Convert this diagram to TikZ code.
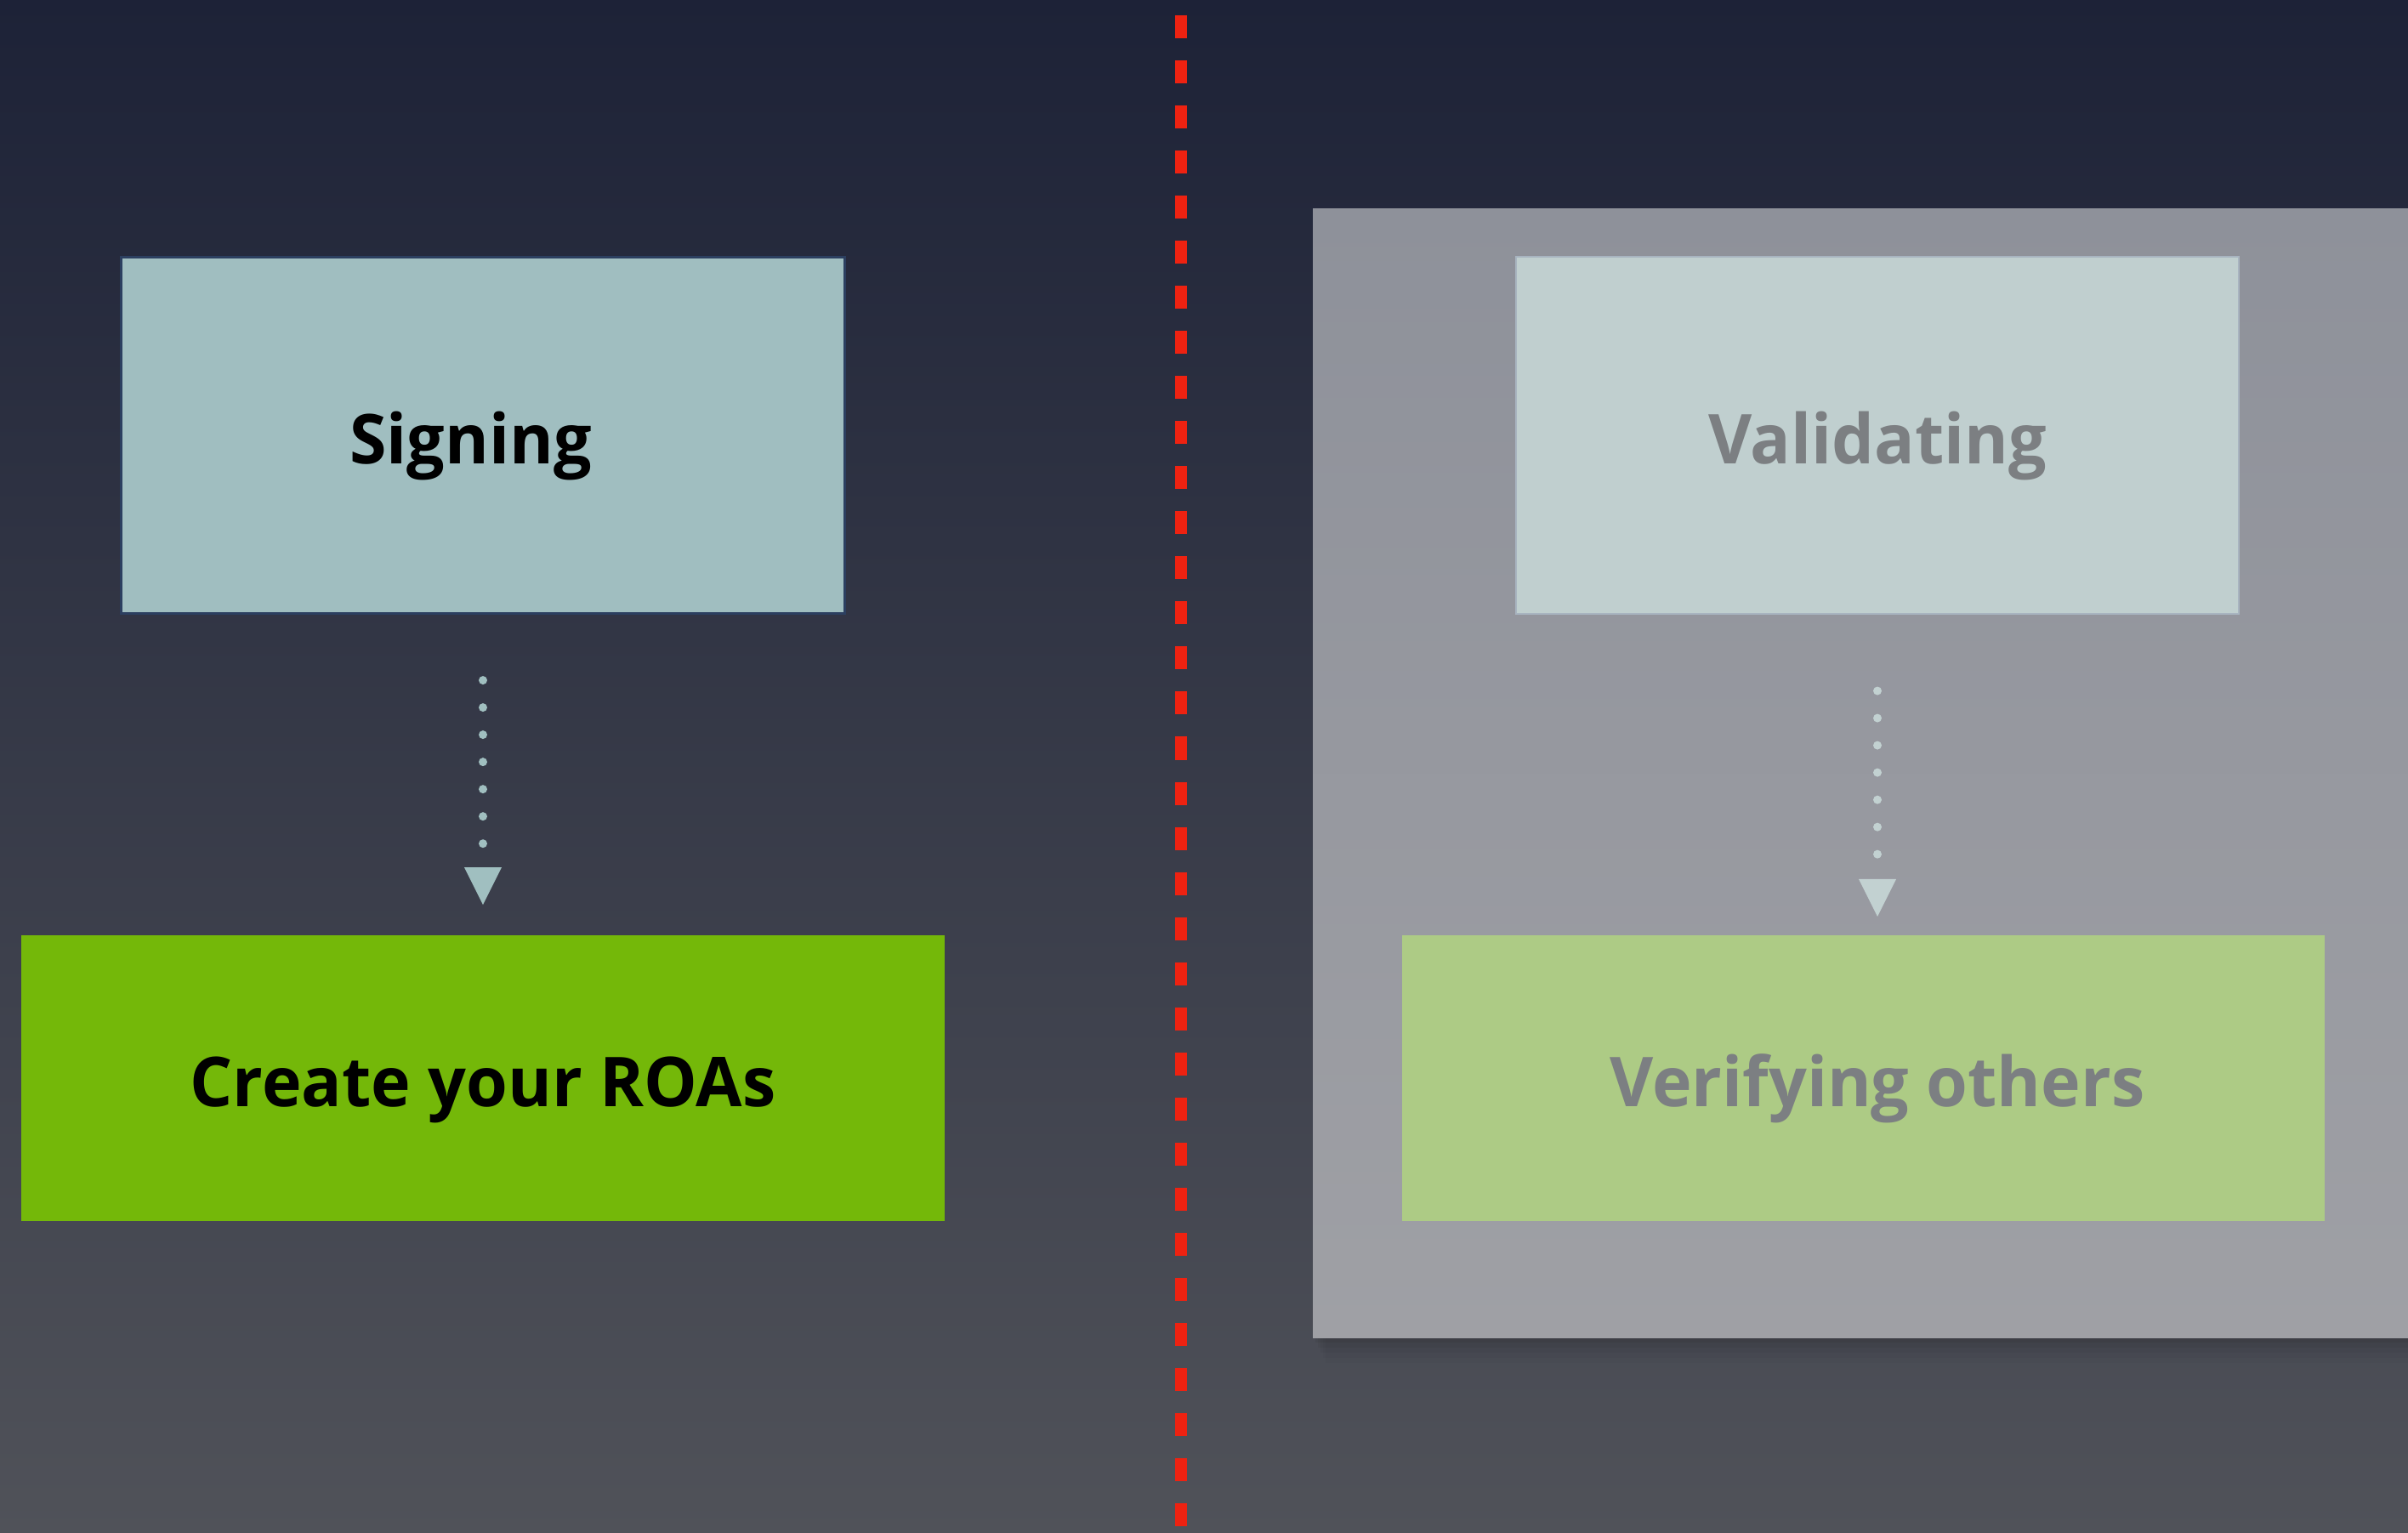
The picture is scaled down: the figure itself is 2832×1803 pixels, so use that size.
\documentclass[tikz,border=0pt]{standalone}
\usepackage{fontspec}
\setmainfont{Open Sans}[FakeStretch=0.975]
\usetikzlibrary{arrows.meta}
\definecolor{bgtop}{HTML}{1D2237}
\definecolor{bgbot}{HTML}{505259}
\definecolor{signfill}{HTML}{A0BEC0}
\definecolor{signedge}{HTML}{2C3F60}
\definecolor{roagreen}{HTML}{74B809}
\definecolor{validfill}{HTML}{C0CFCF}
\definecolor{validedge}{HTML}{A8B4C0}
\definecolor{veriffill}{HTML}{ADCB85}
\definecolor{fadetext}{HTML}{7C7F82}
\definecolor{paneltop}{HTML}{8E919A}
\definecolor{panelbot}{HTML}{9FA0A5}
\definecolor{arrowleft}{HTML}{A0BFC0}
\definecolor{arrowright}{HTML}{C2D1D1}
\definecolor{divider}{HTML}{EE2211}
\tikzset{
  box/.style={rectangle, inner sep=0pt, minimum width=8.5cm, minimum height=4.19cm},
  widebox/.style={rectangle, inner sep=0pt, minimum width=10.86cm, minimum height=3.36cm},
  title/.style={font=\bfseries\fontsize{23}{28}\selectfont, text height=18.8pt, text depth=0pt},
  dotflow/.style={line width=0.1cm, line cap=round, dash pattern=on 0pt off 0.32cm,
    -{Triangle[length=0.44cm, width=0.44cm, line width=0pt, round=false]}},
}
\begin{document}
\begin{tikzpicture}[x=0.01cm, y=-0.01cm]
  % backdrop
  \fill[top color=bgtop, bottom color=bgbot] (0,0) rectangle (2832,1803);
  \useasboundingbox (0,0) rectangle (2832,1803);

  % divider between the two sides
  \coordinate (divtop) at (1389,18);
  \coordinate (divbot) at (1389,1803);
  \draw[divider, line width=0.14cm, dash pattern=on 0.27cm off 0.26cm] (divtop) -- (divbot);

  % soft shadow under the faded panel
  \foreach \k/\o in {1/0.05, 2/0.04, 3/0.03, 4/0.02, 5/0.015}
    \fill[black, opacity=\o] (1544+\k*3, 1573) rectangle (2832, 1573+\k*6);

  % faded right-hand panel
  \fill[top color=paneltop, bottom color=panelbot] (1544,246) rectangle (2832,1573);

  % left side
  \node[box, fill=signfill, draw=signedge, line width=0.8pt,
        label={[title, xshift=-0.145cm, text=black]center:Signing}] (sign) at (568,512) {};
  \node[widebox, fill=roagreen, title, text=black] (roa) at (568,1268) {Create your ROAs};
  \draw[dotflow, arrowleft, shorten <=0.77cm, shorten >=0.35cm] (sign.south) -- (roa.north);

  % right side
  \node[box, fill=validfill, draw=validedge, line width=0.5pt, title, text=fadetext] (valid) at (2208,512) {Validating};
  \node[widebox, minimum width=10.85cm, fill=veriffill,
        label={[title, xshift=0.165cm, text=fadetext]center:Verifying others}] (verif) at (2191.5,1268) {};
  \coordinate (verifin) at (2208,1100);
  \draw[dotflow, arrowright, shorten <=0.90cm, shorten >=0.22cm] (valid.south) -- (verifin);
\end{tikzpicture}
\end{document}
